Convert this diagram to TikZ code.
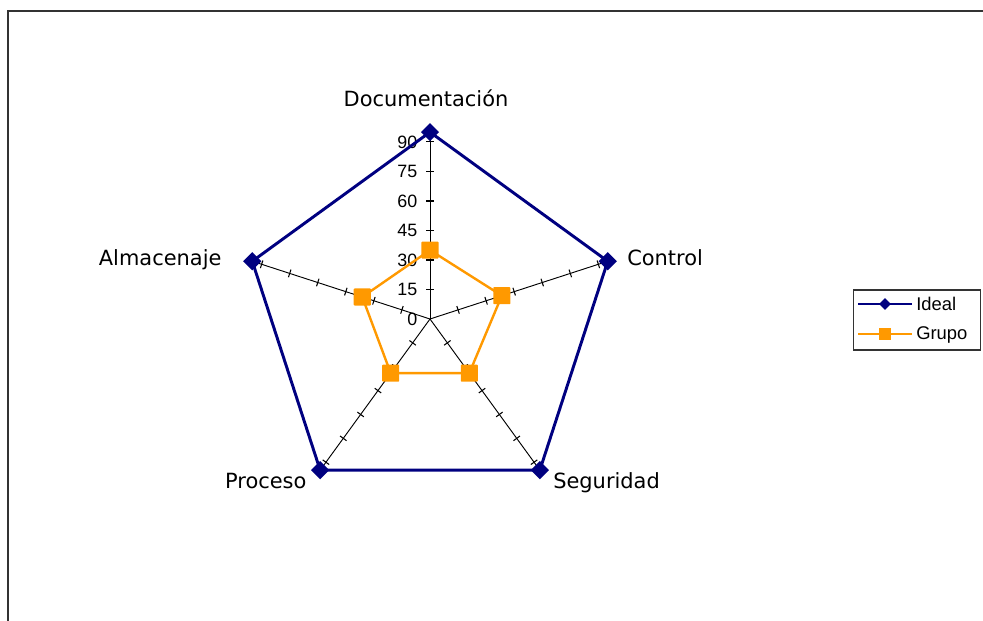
\documentclass[tikz,border=0pt]{standalone}
\usepackage{fontspec}
\setmainfont{Liberation Sans}
\newfontfamily\catfont{DejaVu Sans}
\usetikzlibrary{shapes.geometric,calc}
\definecolor{idealblue}{HTML}{000080}
\definecolor{grupoorange}{HTML}{FF9900}
\definecolor{framegray}{HTML}{333333}

\begin{document}
\begin{tikzpicture}[x=0.75pt,y=0.75pt,
  axisline/.style={black, line width=0.7pt},
  tickmark/.style={black, line width=0.8pt},
  idealline/.style={idealblue, line width=2.2pt, line join=miter},
  grupoline/.style={grupoorange, line width=1.8pt, line join=miter},
  idealmark/.style={diamond, fill=idealblue, draw=none, inner sep=0pt, minimum width=13.8pt, minimum height=13.8pt},
  grupomark/.style={rectangle, fill=grupoorange, draw=none, inner sep=0pt, minimum size=12.8pt, rounded corners=0.6pt},
  idealkey/.style={diamond, fill=idealblue, inner sep=0pt, minimum width=9pt, minimum height=9pt},
  grupokey/.style={rectangle, fill=grupoorange, inner sep=0pt, minimum size=8.8pt},
  catlabel/.style={inner sep=0pt, font=\catfont\fontsize{15.7}{18}\selectfont},
  ticklabel/.style={inner sep=0pt, anchor=east, font=\fontsize{13.4}{15}\selectfont},
  keylabel/.style={inner sep=0pt, anchor=base west, font=\fontsize{13.8}{16}\selectfont}
]
\useasboundingbox (0,0) rectangle (983,621);

% outer frame of the chart area
\draw[framegray, line width=1.5pt] (8,-2) -- (8,610) -- (985,610);

% radar centre and scale (px per unit)
\coordinate (O) at (430,302);
\def\k{1.967}

% axes with tick marks every 15 units
\foreach \a [count=\i] in {90,18,-54,-126,162} {
  \coordinate (ax\i) at ($(O)+(\a:95*\k)$);
  \draw[axisline] (O) -- (ax\i);
  \begin{scope}[shift={(O)}, rotate=\a]
    \foreach \v in {15,30,...,90}
      \draw[tickmark] (\v*\k,4) -- (\v*\k,-4);
  \end{scope}
}

% value labels on the vertical axis
\foreach \v in {0,15,...,90}
  \node[ticklabel] (t\v) at (417.5,302+\v*\k) {\v};

% data points
\foreach \a/\v [count=\i] in {90/95,18/95,-54/95,-126/95,162/95}
  \coordinate (p\i) at ($(O)+(\a:\v*\k)$);
\foreach \a/\v [count=\i] in {90/35,18/38.4,-54/34,-126/34,162/36.2}
  \coordinate (q\i) at ($(O)+(\a:\v*\k)$);

% series lines
\draw[idealline] (p1) -- (p2) -- (p3) -- (p4) -- (p5) -- cycle;
\draw[grupoline] (q1) -- (q2) -- (q3) -- (q4) -- (q5) -- cycle;

% series markers
\foreach \i in {1,...,5} {
  \node[idealmark] (mi\i) at (p\i) {};
  \node[grupomark] (mg\i) at (q\i) {};
}

% category labels
\node[catlabel, anchor=base] (doc) at (426,514.3) {Documentación};
\node[catlabel, anchor=base west] (ctl) at (627,355) {Control};
\node[catlabel, anchor=base east] (alm) at (221.7,355) {Almacenaje};
\node[catlabel, anchor=base east] (pro) at (306.7,132) {Proceso};
\node[catlabel, anchor=base west] (seg) at (553,132) {Seguridad};

% legend
\node[draw=framegray, line width=0.8pt, inner sep=0pt, minimum width=95.6pt, minimum height=45pt, anchor=north west] (legend) at (852.5,331.5) {};
\coordinate (la) at (858,317);
\coordinate (lb) at (912,317);
\coordinate (lc) at (858,287);
\coordinate (ld) at (912,287);
\draw[idealline, line width=1.8pt] (la) -- (lb);
\draw[grupoline] (lc) -- (ld);
\node[idealkey] (ki) at (885,317) {};
\node[grupokey] (kg) at (885,287) {};
\node[keylabel] (li) at (916,310.5) {Ideal};
\node[keylabel] (lg) at (916,281) {Grupo};
\end{tikzpicture}
\end{document}
